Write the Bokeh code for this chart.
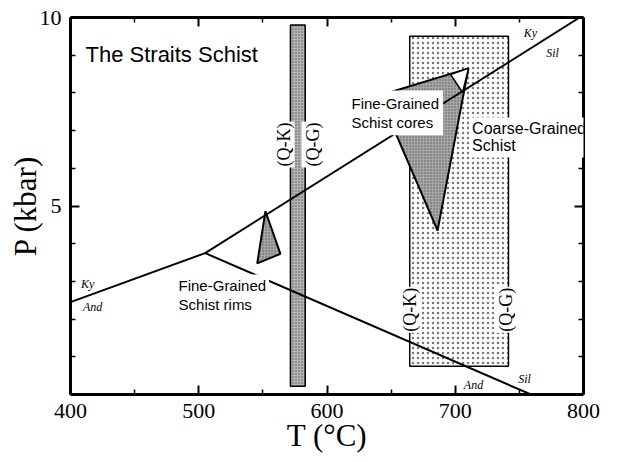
from math import pi
from bokeh.plotting import figure
from bokeh.models import Range1d, LinearAxis, FixedTicker, Label
from bokeh.embed import file_html
from bokeh.resources import INLINE

# ---- data (T in degC, P in kbar) ----
ky_and_T = [400, 505]
ky_and_P = [2.45, 3.75]
ky_sil_T = [505, 797]
ky_sil_P = [3.75, 10.0]
and_sil_T = [505, 759]
and_sil_P = [3.75, 0.0]

bar_T = [571.5, 583.0]          # fine-grained schist Q-K / Q-G bar
bar_P = [0.22, 9.8]
coarse_T = [664.5, 741.5]       # coarse-grained schist field
coarse_P = [0.75, 9.5]

rims_T = [552.0, 545.6, 563.7]
rims_P = [4.86, 3.48, 3.73]
cores_T = [640.9, 710.3, 686.2]
cores_P = [7.93, 8.65, 4.35]
tip_T = [696.3, 710.3, 705.7]
tip_P = [8.49, 8.65, 8.01]

x_major = [400, 500, 600, 700, 800]
x_minor = [450, 550, 650, 750]
y_major = [5, 10]
y_minor = [1, 2, 3, 4, 6, 7, 8, 9]

p = figure(frame_width=513, frame_height=377,
           x_range=Range1d(400, 800), y_range=Range1d(0, 10),
           output_backend="svg", toolbar_location=None,
           min_border_left=70, min_border_right=36,
           min_border_top=17, min_border_bottom=66,
           background_fill_color="white", border_fill_color="white")
p.grid.visible = False
p.outline_line_color = None

xt = FixedTicker(ticks=x_major, minor_ticks=x_minor)
yt = FixedTicker(ticks=y_major, minor_ticks=y_minor)


def style(ax, labels=True):
    ax.axis_line_width = 3
    ax.axis_line_color = "black"
    ax.major_tick_line_width = 2
    ax.minor_tick_line_width = 1.5
    ax.major_tick_in = 9
    ax.major_tick_out = 0
    ax.minor_tick_in = 5
    ax.minor_tick_out = 0
    if labels:
        ax.major_label_text_font = "Liberation Serif"
        ax.major_label_text_font_size = "22px"
        ax.major_label_text_color = "black"
        ax.major_label_standoff = 9
        ax.axis_label_text_font = "Liberation Serif"
        ax.axis_label_text_font_size = "31px"
        ax.axis_label_text_font_style = "normal"
        ax.axis_label_text_color = "black"
    else:
        ax.major_label_text_font_size = "0px"
        ax.major_label_text_alpha = 0
        ax.major_label_standoff = 0


p.xaxis[0].ticker = xt
p.yaxis[0].ticker = yt
style(p.xaxis[0])
style(p.yaxis[0])
p.xaxis[0].axis_label = "T (°C)"
p.xaxis[0].axis_label_standoff = -3
p.yaxis[0].axis_label = "P (kbar)"
p.yaxis[0].axis_label_standoff = -6
top = LinearAxis(ticker=xt)
right = LinearAxis(ticker=yt)
style(top, False)
style(right, False)
p.add_layout(top, "above")
p.add_layout(right, "right")

# fields
p.quad(left=coarse_T[0], right=coarse_T[1], bottom=coarse_P[0], top=coarse_P[1],
       fill_color="white", hatch_pattern="dot", hatch_color="#777777",
       hatch_scale=5, hatch_weight=0.8, line_color="black", line_width=1.5)
p.quad(left=bar_T[0], right=bar_T[1], bottom=bar_P[0], top=bar_P[1],
       fill_color="#b4b4b4", hatch_pattern="dot", hatch_color="#555555",
       hatch_scale=3, hatch_weight=1, line_color="black", line_width=1.5)
p.patch(rims_T, rims_P, fill_color="#a8a8a8", hatch_pattern="dot",
        hatch_color="#555555", hatch_scale=3, hatch_weight=1,
        line_color="black", line_width=2)
p.patch(cores_T, cores_P, fill_color="#a8a8a8", hatch_pattern="dot",
        hatch_color="#555555", hatch_scale=3, hatch_weight=1,
        line_color="black", line_width=2)
p.patch(tip_T, tip_P, fill_color="white", line_color="black", line_width=1.5)

# reaction lines
for T, P in [(ky_and_T, ky_and_P), (ky_sil_T, ky_sil_P), (and_sil_T, and_sil_P)]:
    p.line(T, P, line_color="black", line_width=2)


def lab(x, y, text, font="Liberation Sans", size="15px", style="normal",
        align="left", baseline="middle", angle=0, bg=None, lh=1.2, pad=0):
    kw = dict(x=x, y=y, text=text, text_font=font, text_font_size=size,
              text_font_style=style, text_align=align, text_baseline=baseline,
              angle=angle, text_color="black", text_line_height=lh)
    if bg:
        kw["background_fill_color"] = bg
        kw["padding"] = pad
    p.add_layout(Label(**kw))


lab(411.7, 9.02, "The Straits Schist", size="22px")
lab(616.0, 7.47, "Fine-Grained\nSchist cores", size="15px", bg="white", lh=1.15, pad=4)
lab(710.8, 6.82, "Coarse-Grained\nSchist", size="16px", bg="white", lh=1.0, pad=3)
lab(481.9, 2.63, "Fine-Grained\nSchist rims", size="15px", bg="white", lh=1.1, pad=3)

for x, y, t in [(566.1, 6.02, "(Q-K)"), (588.7, 6.02, "(Q-G)"),
                (665.1, 1.64, "(Q-K)"), (739.2, 1.64, "(Q-G)")]:
    lab(x, y, t, font="Liberation Serif", size="18px", angle=pi / 2,
        bg="white", pad=1)

for x, y, t in [(413.3, 2.94, "Ky"), (417.2, 2.31, "And"),
                (758.7, 9.6, "Ky"), (775.8, 9.05, "Sil"),
                (714.2, 0.26, "And"), (754.0, 0.42, "Sil")]:
    lab(x, y, t, font="Liberation Serif", size="12px", style="italic", align="center")

open("out.html", "w").write(file_html(p, INLINE))
